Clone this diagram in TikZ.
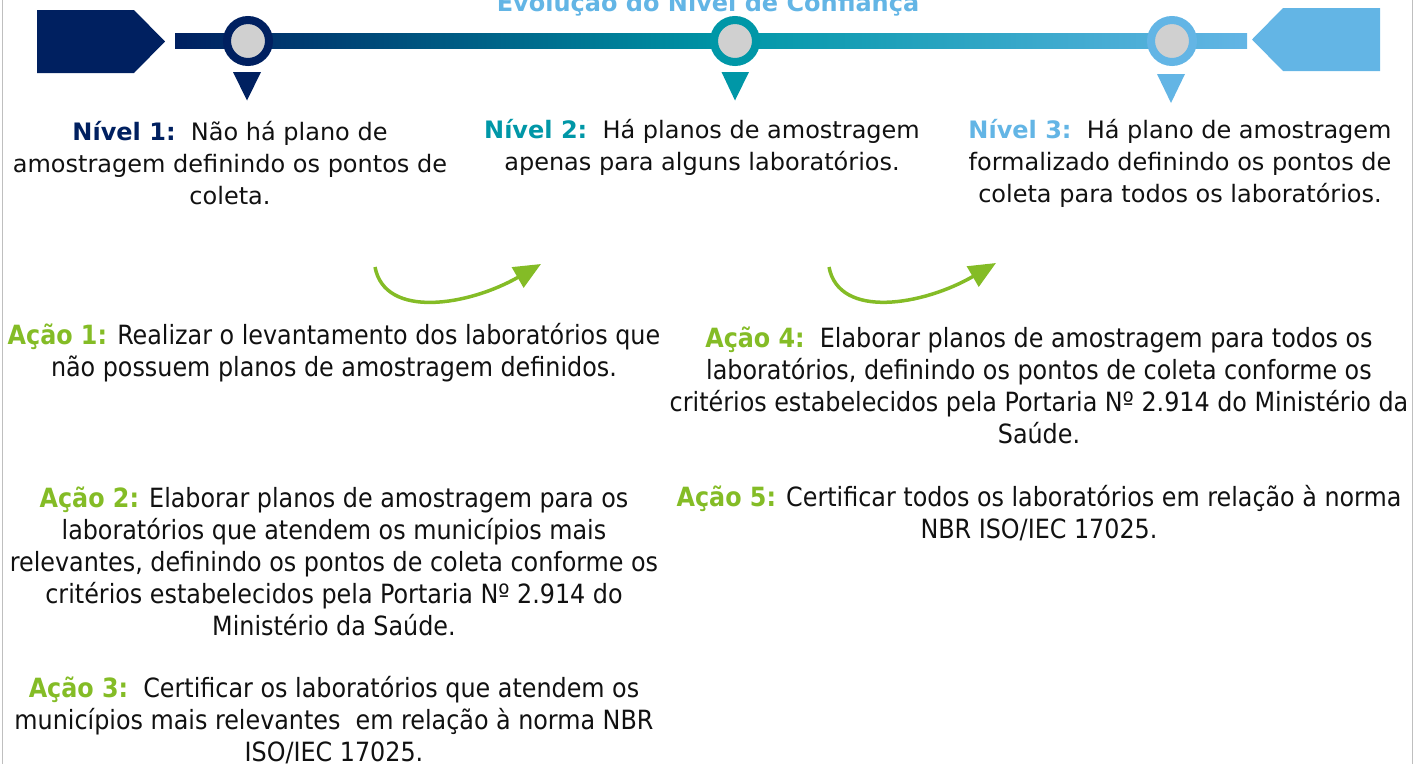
\documentclass[tikz,border=0pt]{standalone}
\usepackage{fontspec}
\setmainfont{DejaVu Sans}
\newfontfamily\condfont{DejaVu Sans Condensed}
\usetikzlibrary{arrows.meta,positioning,shapes.geometric}

\definecolor{navyc}{HTML}{002060}
\definecolor{tealc}{HTML}{0097A7}
\definecolor{skyc}{HTML}{63B5E5}
\definecolor{greenc}{HTML}{84BC26}
\definecolor{ringfill}{HTML}{D0D0D0}
\definecolor{framec}{HTML}{BFBFBF}
\definecolor{txtc}{HTML}{111111}
\pgfdeclarehorizontalshading{barshade}{100bp}{color(0bp)=(navyc); color(25bp)=(navyc); color(51bp)=(tealc); color(75bp)=(skyc); color(100bp)=(skyc)}

\begin{document}
\begin{tikzpicture}[>=Stealth,x=1pt,y=-1pt,
 ring/.style={circle,draw=#1,fill=ringfill,line width=8pt,minimum size=42pt,inner sep=0pt},
 nivel/.style={align=center,inner sep=0pt,text=txtc,font=\fontsize{24}{32}\selectfont},
 acao/.style={align=center,inner sep=0pt,text=txtc,font=\condfont\fontsize{26.5}{32}\selectfont},
 ttl/.style={inner sep=0pt,text=skyc,font=\bfseries\fontsize{24}{28}\selectfont},
 garrow/.style={draw=greenc,line width=3.5pt,-{Triangle[length=27pt,width=23pt]}}]
\useasboundingbox (0,0) rectangle (1414,764);
% frame lines
\draw[framec,line width=1.5pt] (2.5,0) -- (2.5,764);
\draw[framec,line width=1.5pt] (1412.5,0) -- (1412.5,764);
% title, cut by the top edge
\node[ttl,anchor=base] (title) at (708,11) {Evolução do Nível de Confiança};
% end pieces and bar
\fill[navyc] (37,10) -- (134,10) -- (165,41.5) -- (134,73) -- (37,73) -- cycle;
\fill[skyc] (1380,8) -- (1283,8) -- (1252,39.5) -- (1283,71) -- (1380,71) -- cycle;
\shade[shading=barshade] (175,33.5) rectangle (1247,48.5);
% markers
\node[ring=navyc] (m1) at (248,41) {};
\node[ring=tealc] (m2) at (735,41) {};
\node[ring=skyc] (m3) at (1172,41) {};
\fill[navyc] (233,72) -- (261,72) -- (247,100.5) -- cycle;
\fill[tealc] (721.5,72) -- (749,72) -- (735,100.5) -- cycle;
\fill[skyc] (1157,74) -- (1185,74) -- (1171,103) -- cycle;
% levels
\node[nivel] (n1) at (230,163) {\textcolor{navyc}{\textbf{Nível 1:}}\ \ Não há plano de\\amostragem definindo os pontos de\\coleta.};
\node[nivel] (n2) at (702,147) {\textcolor{tealc}{\textbf{Nível 2:}}\ \ Há planos de amostragem\\apenas para alguns laboratórios.};
\node[nivel] (n3) at (1180,163) {\textcolor{skyc}{\textbf{Nível 3:}}\ \ Há plano de amostragem\\formalizado definindo os pontos de\\coleta para todos os laboratórios.};
% arrows
\coordinate (a1s) at (375,267);
\coordinate (a1e) at (541,264);
\coordinate (a2s) at (829,267);
\coordinate (a2e) at (996,263);
\draw[garrow] (a1s) .. controls (385,320) and (470,305) .. (a1e);
\draw[garrow] (a2s) .. controls (839,320) and (924,305) .. (a2e);
% actions
\node[acao] (ac1) at (334,353) {\textcolor{greenc}{\textbf{Ação 1:}} Realizar o levantamento dos laboratórios que\\não possuem planos de amostragem definidos.};
\node[acao] (ac4) at (1039,385) {\textcolor{greenc}{\textbf{Ação 4:}}\ \ Elaborar planos de amostragem para todos os\\laboratórios, definindo os pontos de coleta conforme os\\critérios estabelecidos pela Portaria Nº 2.914 do Ministério da\\Saúde.};
\node[acao] (ac2) at (334,561) {\textcolor{greenc}{\textbf{Ação 2:}} Elaborar planos de amostragem para os\\laboratórios que atendem os municípios mais\\relevantes, definindo os pontos de coleta conforme os\\critérios estabelecidos pela Portaria Nº 2.914 do\\Ministério da Saúde.};
\node[acao] (ac5) at (1039,513) {\textcolor{greenc}{\textbf{Ação 5:}} Certificar todos os laboratórios em relação à norma\\NBR ISO/IEC 17025.};
\node[acao] (ac3) at (334,720.5) {\textcolor{greenc}{\textbf{Ação 3:}}\ \ Certificar os laboratórios que atendem os\\municípios mais relevantes\ \ em relação à norma NBR\\ISO/IEC 17025.};
\end{tikzpicture}
\end{document}
